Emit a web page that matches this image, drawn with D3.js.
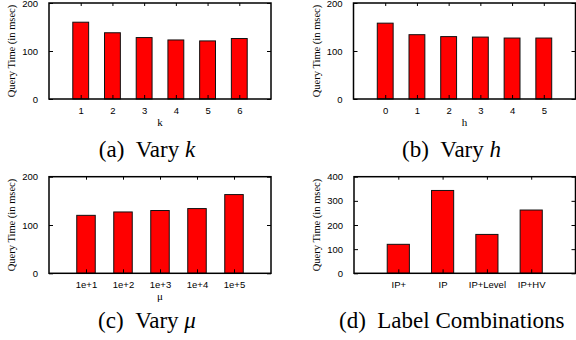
<!DOCTYPE html>
<html><head><meta charset="utf-8">
<script src="https://cdn.jsdelivr.net/npm/d3@7"></script>
<style>
html,body{margin:0;padding:0;background:#fff;}
svg{display:block;}
.tick text{font-family:"Liberation Sans",Arial,sans-serif;}
</style></head>
<body>
<svg id="c" width="576" height="340"></svg>
<script>
// ---- data ----
const kCategories = ["1","2","3","4","5","6"];
const kValues = [160, 138, 128, 123, 121, 126];
const hCategories = ["0","1","2","3","4","5"];
const hValues = [158, 134, 130, 129, 127, 127];
const muCategories = ["1e+1","1e+2","1e+3","1e+4","1e+5"];
const muValues = [120, 127, 130, 134, 163];
const labelCategories = ["IP+","IP","IP+Level","IP+HV"];
const labelValues = [120, 343, 161, 262];
const yTicksSmall = [0, 100, 200];
const yTicksLarge = [0, 100, 200, 300, 400];
const yTitle = "Query Time (in msec)";
const xTitles = ["k", "h", "\u03bc", ""];
const captionLabels = ["(a)", "(b)", "(c)", "(d)"];
const captionTexts = ["Vary ", "Vary ", "Vary ", "Label Combinations"];
const captionVars = ["k", "h", "\u03bc", ""];

const panels = [
  {cats: kCategories, vals: kValues, ticks: yTicksSmall, xt: xTitles[0], cl: captionLabels[0], ct: captionTexts[0], cv: captionVars[0],
   box: {x0: 49, x1: 271, y0: 3, y1: 99}, capY: 157},
  {cats: hCategories, vals: hValues, ticks: yTicksSmall, xt: xTitles[1], cl: captionLabels[1], ct: captionTexts[1], cv: captionVars[1],
   box: {x0: 353.5, x1: 575.5, y0: 3, y1: 99}, capY: 157},
  {cats: muCategories, vals: muValues, ticks: yTicksSmall, xt: xTitles[2], cl: captionLabels[2], ct: captionTexts[2], cv: captionVars[2],
   box: {x0: 49, x1: 271, y0: 176.7, y1: 273.3}, capY: 328},
  {cats: labelCategories, vals: labelValues, ticks: yTicksLarge, xt: xTitles[3], cl: captionLabels[3], ct: captionTexts[3], cv: captionVars[3],
   box: {x0: 354, x1: 575.5, y0: 176.7, y1: 273.3}, capY: 328}
];

const svg = d3.select("#c");

panels.forEach(p => {
  const b = p.box;
  const n = p.cats.length;
  const x = d3.scaleLinear().domain([0, n + 1]).range([b.x0, b.x1]);
  const y = d3.scaleLinear().domain([0, d3.max(p.ticks)]).range([b.y1, b.y0]);
  const g = svg.append("g");
  const bw = x(0.5) - x(0);

  // bars
  g.selectAll("rect.bar").data(p.vals).join("rect")
    .attr("class", "bar")
    .attr("x", (d, i) => x(i + 1) - bw / 2)
    .attr("width", bw)
    .attr("y", d => y(d))
    .attr("height", d => y(0) - y(d))
    .attr("fill", "#ff0000")
    .attr("stroke", "#111")
    .attr("stroke-width", 1);

  // left axis
  const yl = d3.axisLeft(y).tickValues(p.ticks).tickFormat(d3.format("d")).tickSizeInner(-4).tickSizeOuter(0).tickPadding(11);
  const gl = g.append("g").attr("transform", `translate(${b.x0},0)`).call(yl);
  gl.select(".domain").remove();
  gl.selectAll(".tick line").attr("stroke", "#000");
  gl.selectAll(".tick text").attr("font-size", 9.5).attr("fill", "#000");

  // right mirror ticks
  const yr = d3.axisRight(y).tickValues(p.ticks).tickSizeInner(-4).tickSizeOuter(0).tickFormat("");
  const gr = g.append("g").attr("transform", `translate(${b.x1},0)`).call(yr);
  gr.select(".domain").remove();
  gr.selectAll(".tick line").attr("stroke", "#000");

  // bottom axis labels
  const xb = d3.axisBottom(x).tickValues(d3.range(1, n + 1)).tickFormat(d => p.cats[d - 1]).tickSizeInner(-4).tickSizeOuter(0).tickPadding(8);
  const gb = g.append("g").attr("transform", `translate(0,${b.y1})`).call(xb);
  gb.select(".domain").remove();
  gb.selectAll(".tick line").attr("stroke", "#000");
  gb.selectAll(".tick text").attr("font-size", 9.5).attr("fill", "#000");

  // top mirror ticks
  const xt = d3.axisTop(x).tickValues(d3.range(1, n + 1)).tickSizeInner(-3).tickSizeOuter(0).tickFormat("");
  const gt = g.append("g").attr("transform", `translate(0,${b.y0})`).call(xt);
  gt.select(".domain").remove();
  gt.selectAll(".tick line").attr("stroke", "#000");

  // frame
  g.append("rect").attr("x", b.x0).attr("y", b.y0).attr("width", b.x1 - b.x0).attr("height", b.y1 - b.y0)
    .attr("fill", "none").attr("stroke", "#000").attr("stroke-width", 1.5);

  // y title
  g.append("text")
    .attr("transform", `translate(${b.x0 - 34},${(b.y0 + b.y1) / 2}) rotate(-90)`)
    .attr("text-anchor", "middle")
    .attr("font-family", "'Liberation Serif','Times New Roman',serif")
    .attr("font-size", 10.5)
    .text(yTitle);

  // x title
  if (p.xt) {
    g.append("text")
      .attr("x", (b.x0 + b.x1) / 2)
      .attr("y", b.y1 + 27)
      .attr("text-anchor", "middle")
      .attr("font-family", "'Liberation Serif','Times New Roman',serif")
      .attr("font-size", 11)
      .text(p.xt);
  }

  // caption
  const cap = svg.append("text")
    .attr("x", (b.x0 + b.x1) / 2 - 13)
    .attr("y", p.capY)
    .attr("text-anchor", "middle")
    .attr("font-family", "'Liberation Serif','Times New Roman',serif")
    .attr("font-size", 23);
  cap.append("tspan").text(p.cl + "\u2002" + p.ct);
  if (p.cv) cap.append("tspan").attr("font-style", "italic").text(p.cv);
});
</script>
</body></html>
